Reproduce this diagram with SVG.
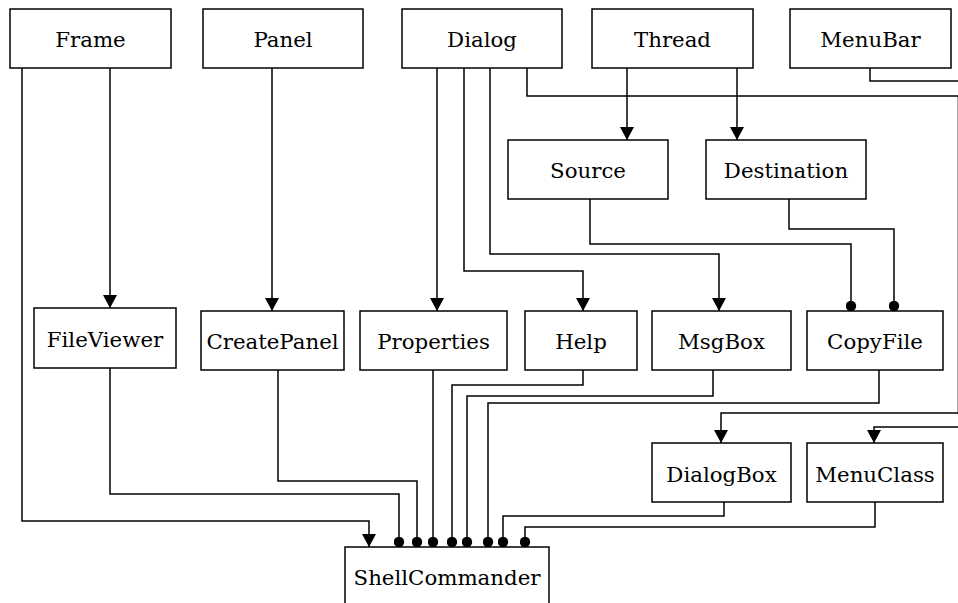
<svg xmlns="http://www.w3.org/2000/svg" width="958" height="603" viewBox="0 0 958 603">
<style>
.box{fill:#fff;stroke:#000;stroke-width:1.5}
.ln{fill:none;stroke:#000;stroke-width:1.5}
.arr{marker-end:url(#arrow)}
.dot{marker-end:url(#dot)}
</style>
<defs>
<marker id="arrow" markerUnits="userSpaceOnUse" viewBox="0 0 13 14" markerWidth="13" markerHeight="14" refX="13" refY="7" orient="auto"><path d="M0,0 L13,7 L0,14 z" fill="#000"/></marker>
<marker id="dot" markerUnits="userSpaceOnUse" viewBox="0 0 11 11" markerWidth="11" markerHeight="11" refX="5.5" refY="5.5" orient="auto"><circle cx="5.5" cy="5.5" r="5.2" fill="#000"/></marker>
</defs>
<rect width="958" height="603" fill="#fff"/>
<g id="connectors">
<path class="ln arr" d="M110,68 V308"/>
<path class="ln arr" d="M272,68 V311"/>
<path class="ln arr" d="M437,68 V311"/>
<path class="ln arr" d="M464,68 V271 H583 V311"/>
<path class="ln arr" d="M490,68 V254 H719 V311"/>
<path class="ln arr" d="M627,68 V140"/>
<path class="ln arr" d="M737,68 V140"/>
<path class="ln dot" d="M590,199 V244 H851 V306"/>
<path class="ln dot" d="M789,199 V229 H894 V306"/>
<path class="ln arr" d="M527,68 V96 H958.4 V413 H721 V443"/>
<path class="ln arr" d="M870,68 V81 H966 V427 H874 V443"/>
<path class="ln arr" d="M22,68 V521 H369 V547"/>
<path class="ln dot" d="M110,368 V494 H399 V542"/>
<path class="ln dot" d="M278,370 V481 H417 V542"/>
<path class="ln dot" d="M433,370 V542"/>
<path class="ln dot" d="M583,370 V385 H452 V542"/>
<path class="ln dot" d="M713,370 V396 H467 V542"/>
<path class="ln dot" d="M879,370 V403 H488 V542"/>
<path class="ln dot" d="M724,502 V516 H503 V542"/>
<path class="ln dot" d="M875,502 V527 H525 V542"/>
</g>
<g font-family="DejaVu Serif, serif" font-size="21.3" text-anchor="middle" fill="#000">
<g id="Frame"><rect class="box" x="10" y="9" width="161" height="59"/><text x="90.5" y="47">Frame</text></g>
<g id="Panel"><rect class="box" x="203" y="9" width="160" height="59"/><text x="283" y="47">Panel</text></g>
<g id="Dialog"><rect class="box" x="402" y="9" width="160" height="59"/><text x="482" y="47">Dialog</text></g>
<g id="Thread"><rect class="box" x="592" y="9" width="161" height="59"/><text x="672.5" y="47">Thread</text></g>
<g id="MenuBar"><rect class="box" x="790" y="9" width="161" height="59"/><text x="870.5" y="47">MenuBar</text></g>
<g id="Source"><rect class="box" x="508" y="140" width="160" height="59"/><text x="588" y="177.5">Source</text></g>
<g id="Destination"><rect class="box" x="706" y="140" width="160" height="59"/><text x="786" y="177.5">Destination</text></g>
<g id="FileViewer"><rect class="box" x="34" y="308" width="142" height="60"/><text x="105" y="346.5">FileViewer</text></g>
<g id="CreatePanel"><rect class="box" x="201" y="311" width="143" height="59"/><text x="272.5" y="348.5">CreatePanel</text></g>
<g id="Properties"><rect class="box" x="360" y="311" width="147" height="59"/><text x="433.5" y="348.5">Properties</text></g>
<g id="Help"><rect class="box" x="525" y="311" width="112" height="59"/><text x="581" y="348.5">Help</text></g>
<g id="MsgBox"><rect class="box" x="652" y="311" width="139" height="59"/><text x="721.5" y="348.5">MsgBox</text></g>
<g id="CopyFile"><rect class="box" x="807" y="311" width="136" height="59"/><text x="875" y="348.5">CopyFile</text></g>
<g id="DialogBox"><rect class="box" x="652" y="443" width="139" height="59"/><text x="721.5" y="481.5">DialogBox</text></g>
<g id="MenuClass"><rect class="box" x="807" y="443" width="136" height="59"/><text x="875" y="481.5">MenuClass</text></g>
<g id="ShellCommander"><rect class="box" x="345" y="547" width="204" height="62"/><text x="447" y="584.5">ShellCommander</text></g>
</g>
</svg>
